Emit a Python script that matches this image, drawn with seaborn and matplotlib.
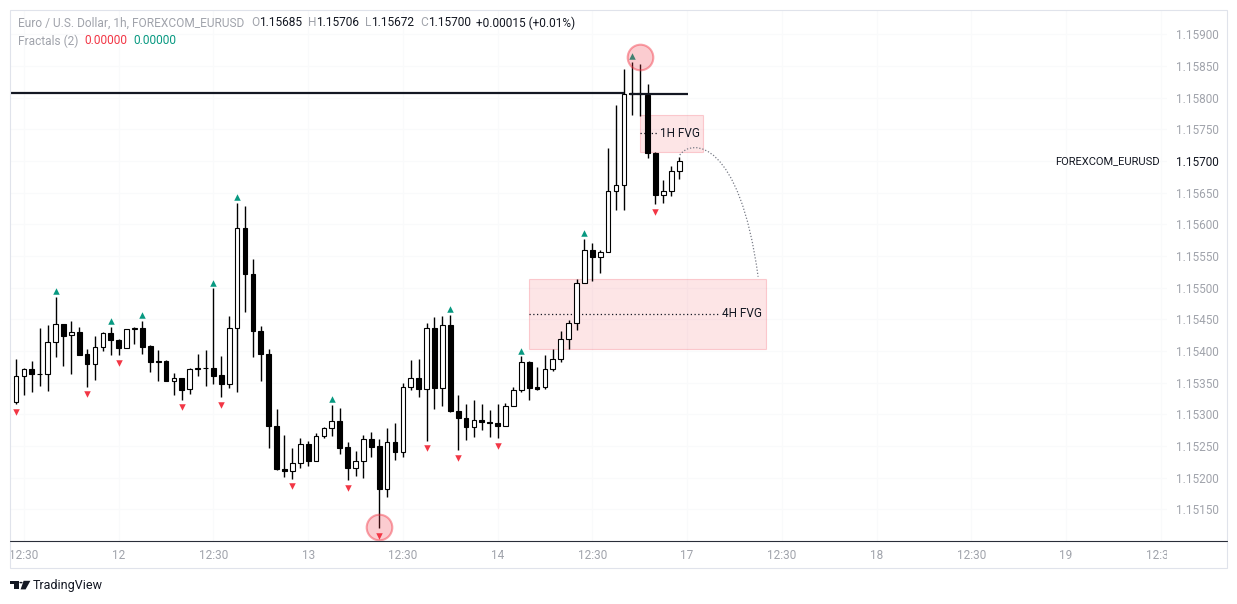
import numpy as np
import pandas as pd
import matplotlib
matplotlib.use("Agg")
import matplotlib.pyplot as plt
from matplotlib.lines import Line2D
from matplotlib.patches import Rectangle, Polygon, Circle, PathPatch
from matplotlib.path import Path
from matplotlib.transforms import Bbox, TransformedBbox
import seaborn as sns

# EURUSD 1h candles (bar 0 = 11th 11:30)
opens = [
    1.15320, 1.15361, 1.15371, 1.15364, 1.15363, 1.15414, 1.15442, 1.15425, 1.15430, 1.15395,
    1.15379, 1.15406, 1.15428, 1.15418, 1.15405, 1.15435, 1.15436, 1.15408, 1.15384, 1.15384,
    1.15353, 1.15358, 1.15340, 1.15371, 1.15374, 1.15373, 1.15362, 1.15348, 1.15436, 1.15594,
    1.15521, 1.15431, 1.15395, 1.15281, 1.15214, 1.15210, 1.15224, 1.15253, 1.15226, 1.15266,
    1.15278, 1.15290, 1.15248, 1.15216, 1.15226, 1.15261, 1.15250, 1.15182, 1.15256, 1.15241,
    1.15344, 1.15358, 1.15340, 1.15437, 1.15342, 1.15441, 1.15306, 1.15295, 1.15280, 1.15291,
    1.15288, 1.15286, 1.15281, 1.15314, 1.15338, 1.15383, 1.15343, 1.15343, 1.15371, 1.15388,
    1.15419, 1.15445, 1.15508, 1.15559, 1.15548, 1.15557, 1.15653, 1.15662, 1.15805, 1.15808,
    1.15804, 1.15712, 1.15647, 1.15653, 1.15685]
highs = [
    1.15387, 1.15373, 1.15384, 1.15436, 1.15441, 1.15486, 1.15443, 1.15447, 1.15438, 1.15403,
    1.15424, 1.15430, 1.15438, 1.15419, 1.15435, 1.15438, 1.15448, 1.15409, 1.15402, 1.15386,
    1.15365, 1.15358, 1.15373, 1.15395, 1.15402, 1.15499, 1.15392, 1.15455, 1.15634, 1.15629,
    1.15545, 1.15440, 1.15403, 1.15308, 1.15268, 1.15247, 1.15263, 1.15258, 1.15270, 1.15280,
    1.15315, 1.15310, 1.15257, 1.15242, 1.15268, 1.15272, 1.15261, 1.15279, 1.15286, 1.15349,
    1.15386, 1.15388, 1.15445, 1.15454, 1.15456, 1.15457, 1.15330, 1.15316, 1.15323, 1.15316,
    1.15307, 1.15316, 1.15318, 1.15343, 1.15392, 1.15384, 1.15375, 1.15394, 1.15404, 1.15431,
    1.15449, 1.15514, 1.15577, 1.15570, 1.15559, 1.15721, 1.15788, 1.15845, 1.15857, 1.15853,
    1.15821, 1.15714, 1.15670, 1.15692, 1.15706]
lows = [
    1.15316, 1.15330, 1.15336, 1.15345, 1.15337, 1.15391, 1.15377, 1.15364, 1.15393, 1.15344,
    1.15355, 1.15400, 1.15394, 1.15393, 1.15405, 1.15411, 1.15396, 1.15367, 1.15353, 1.15352,
    1.15331, 1.15323, 1.15332, 1.15360, 1.15345, 1.15348, 1.15327, 1.15341, 1.15336, 1.15462,
    1.15390, 1.15353, 1.15247, 1.15212, 1.15201, 1.15198, 1.15216, 1.15219, 1.15226, 1.15262,
    1.15266, 1.15237, 1.15196, 1.15202, 1.15200, 1.15233, 1.15120, 1.15170, 1.15228, 1.15233,
    1.15338, 1.15327, 1.15258, 1.15308, 1.15313, 1.15303, 1.15243, 1.15259, 1.15265, 1.15276,
    1.15265, 1.15262, 1.15281, 1.15314, 1.15336, 1.15322, 1.15339, 1.15340, 1.15369, 1.15383,
    1.15404, 1.15433, 1.15507, 1.15511, 1.15523, 1.15556, 1.15623, 1.15622, 1.15772, 1.15771,
    1.15704, 1.15632, 1.15633, 1.15645, 1.15672]
closes = [
    1.15361, 1.15371, 1.15364, 1.15363, 1.15414, 1.15442, 1.15424, 1.15430, 1.15394, 1.15379,
    1.15406, 1.15428, 1.15417, 1.15405, 1.15434, 1.15436, 1.15407, 1.15382, 1.15383, 1.15353,
    1.15358, 1.15339, 1.15371, 1.15374, 1.15373, 1.15361, 1.15348, 1.15436, 1.15594, 1.15521,
    1.15431, 1.15395, 1.15281, 1.15214, 1.15210, 1.15224, 1.15253, 1.15226, 1.15266, 1.15278,
    1.15290, 1.15247, 1.15216, 1.15226, 1.15261, 1.15249, 1.15182, 1.15256, 1.15241, 1.15344,
    1.15358, 1.15340, 1.15437, 1.15342, 1.15441, 1.15306, 1.15295, 1.15280, 1.15291, 1.15288,
    1.15287, 1.15281, 1.15314, 1.15338, 1.15383, 1.15341, 1.15340, 1.15371, 1.15388, 1.15419,
    1.15445, 1.15508, 1.15559, 1.15548, 1.15557, 1.15653, 1.15662, 1.15805, 1.15808, 1.15805,
    1.15712, 1.15647, 1.15653, 1.15685, 1.15700]

# Fractals (2) marks
up_fractals = [5, 12, 16, 25, 28, 40, 55, 64, 72, 78]
down_fractals = [0, 9, 13, 21, 26, 35, 42, 46, 52, 56, 61, 81]

# time axis
tick_pos = [1, 13, 25, 37, 49, 61, 73, 85, 97, 109, 121, 133, 145]
tick_labels = ["12:30", "12", "12:30", "13", "12:30", "14", "12:30",
               "17", "12:30", "18", "12:30", "19", "12:30"]

# price axis
price_ticks = [1.1515, 1.1520, 1.1525, 1.1530, 1.1535, 1.1540, 1.1545, 1.1550,
               1.1555, 1.1560, 1.1565, 1.1570, 1.1575, 1.1580, 1.1585, 1.1590]
price_labels = ["1.15150", "1.15200", "1.15250", "1.15300", "1.15350", "1.15400",
                "1.15450", "1.15500", "1.15550", "1.15600", "1.15650", "1.15700",
                "1.15750", "1.15800", "1.15850", "1.15900"]
last_price_label = "1.15700"

# drawings: fair value gaps (bar from, bar to, low, high)
fvg_4h = [65.0, 95.06, 1.15404, 1.15514]
fvg_1h = [79.0, 87.03, 1.15715, 1.15772]
# resistance line pieces (bar from, bar to, price)
res_left = [-0.77, 77.0, 1.15808]
res_right = [77.8, 85.1, 1.15805]
# projected path (bezier anchors)
arc_bars = [84.08, 85.60, 91.68, 94.0]
arc_prices = [1.157095, 1.157363, 1.157332, 1.155173]
# highlighted swing points
circle_bars = [79.05, 46.0]
circle_prices = [1.15864, 1.15122]

W, H = 1237, 604
TEXT = "#131722"
GREY = "#a0a3ab"
RED = "#f23645"
TEAL = "#089981"

sns.set_theme(style="white")
plt.rcParams["font.family"] = ["Roboto", "DejaVu Sans"]


def fx(x):
    return x / W


def fy(y):
    return 1 - y / H


fig = plt.figure(figsize=(W / 100, H / 100), dpi=100)
fig.patch.set_facecolor("white")
ax = fig.add_axes([fx(10), 63 / H, 1157 / W, 531 / H])
ylim = (1.151001, 1.159384)
ax.set_xlim(-0.77, 145.8)
ax.set_ylim(*ylim)
per_px = (ylim[1] - ylim[0]) / 531

df = pd.DataFrame({"open": opens, "high": highs, "low": lows, "close": closes})
df["bar"] = np.arange(len(df))
df["rising"] = df["close"] >= df["open"]

# FVG boxes
for x0, x1, lo, hi in [fvg_4h, fvg_1h]:
    ax.add_patch(Rectangle((x0, lo), x1 - x0, hi - lo, facecolor=(242 / 255, 54 / 255, 69 / 255, 0.13),
                           edgecolor=(242 / 255, 54 / 255, 69 / 255, 0.22), lw=0.8, zorder=1))
mid4 = (fvg_4h[2] + fvg_4h[3]) / 2
mid1 = (fvg_1h[2] + fvg_1h[3]) / 2
ax.plot([fvg_4h[0], 88.9], [mid4, mid4], color=TEXT, lw=0.9, ls=(0, (1, 2)), zorder=2)
ax.text(89.4, mid4, "4H FVG", color=TEXT, fontsize=8.5, va="center", ha="left", zorder=2)
ax.plot([fvg_1h[0], 81.2], [mid1, mid1], color=TEXT, lw=0.9, ls=(0, (1, 2)), zorder=2)
ax.text(81.6, mid1, "1H FVG", color=TEXT, fontsize=8.5, va="center", ha="left", zorder=2)

# candles
ax.vlines(df["bar"], df["low"], df["high"], color="black", lw=1.0, zorder=3)
body_lo = df[["open", "close"]].min(axis=1)
body_h = (df["close"] - df["open"]).abs().clip(lower=per_px * 0.4)
ax.bar(df["bar"], body_h, bottom=body_lo, width=0.6,
       color=np.where(df["rising"], "white", "black"), edgecolor="black", linewidth=0.8, zorder=4)

# resistance line
for x0, x1, p in [res_left, res_right]:
    ax.plot([x0, x1], [p, p], color=TEXT, lw=1.6, zorder=5, solid_capstyle="butt")

# fractal arrows
up_df = pd.DataFrame({"bar": up_fractals, "y": [highs[i] + 5.5 * per_px for i in up_fractals]})
dn_df = pd.DataFrame({"bar": down_fractals, "y": [lows[i] - 7.5 * per_px for i in down_fractals]})
sns.scatterplot(data=up_df, x="bar", y="y", marker="^", color=TEAL, s=22, linewidth=0, ax=ax, zorder=6)
sns.scatterplot(data=dn_df, x="bar", y="y", marker="v", color=RED, s=22, linewidth=0, ax=ax, zorder=6)
ax.set_xlabel("")
ax.set_ylabel("")

# projected arc
arc = Path(list(zip(arc_bars, arc_prices)), [Path.MOVETO, Path.CURVE4, Path.CURVE4, Path.CURVE4])
ax.add_patch(PathPatch(arc, fill=False, edgecolor="#787b86", lw=0.9, ls=(0, (1, 1.5)), zorder=5))

# swing highlights
ax.scatter(circle_bars, circle_prices, s=340, facecolor=(242 / 255, 54 / 255, 69 / 255, 0.25),
           edgecolor=(242 / 255, 54 / 255, 69 / 255, 0.45), linewidths=1.5, zorder=7)

# axes styling
for s in ax.spines.values():
    s.set_visible(False)
ax.set_xticks(tick_pos)
ax.set_xticklabels(tick_labels)
ax.set_yticks(price_ticks)
ax.set_yticklabels(price_labels)
ax.yaxis.tick_right()
ax.tick_params(axis="x", length=0, pad=5.5, labelsize=8.5, labelcolor=GREY)
ax.tick_params(axis="y", length=0, pad=6.5, labelsize=8.5, labelcolor=GREY)
for lab in ax.get_yticklabels():
    if lab.get_text() == last_price_label:
        lab.set_color(TEXT)
clip = TransformedBbox(Bbox([[0, -1], [1, 1]]), ax.transAxes)
for lab in ax.get_xticklabels():
    lab.set_clip_box(clip)
    lab.set_clip_on(True)
ax.grid(True, color="#f9fafb", lw=0.8)
ax.set_axisbelow(True)

ax.text(fx(1160), fy(161), "FOREXCOM_EURUSD", transform=fig.transFigure, color=TEXT,
        fontsize=8, ha="right", va="center")

# frame
fig.add_artist(Rectangle((fx(10), fy(568)), 1217 / W, 558 / H, transform=fig.transFigure,
                         fill=False, edgecolor="#e0e3eb", lw=0.8))
fig.add_artist(Line2D([fx(10), fx(1227)], [fy(541), fy(541)], color="#2a2e39", lw=0.8))


# legend header
def chain(parts, x, y):
    prev = None
    for text, color, gap in parts:
        if prev is None:
            prev = fig.text(fx(x), fy(y), text, color=color, fontsize=8.6, ha="left", va="center")
        else:
            prev = ax.annotate(text, xy=(1, 0.5), xycoords=prev, xytext=(gap, 0),
                               textcoords="offset points", color=color, fontsize=8.6,
                               ha="left", va="center", annotation_clip=False)


chain([("Euro / U.S. Dollar, 1h, FOREXCOM_EURUSD", GREY, 0), ("O", GREY, 5), ("1.15685", TEXT, 0),
       ("H", GREY, 4), ("1.15706", TEXT, 0), ("L", GREY, 4), ("1.15672", TEXT, 0),
       ("C", GREY, 4), ("1.15700", TEXT, 0), ("+0.00015 (+0.01%)", TEXT, 4)], 18, 23)
chain([("Fractals (2)", GREY, 0), ("0.00000", RED, 4), ("0.00000", TEAL, 5)], 18, 41)

# footer logo
fig.add_artist(Polygon([(fx(10), fy(580.8)), (fx(18.6), fy(580.8)), (fx(18.6), fy(589.4)),
                        (fx(14.4), fy(589.4)), (fx(14.4), fy(584.0)), (fx(10), fy(584.0))],
                       closed=True, transform=fig.transFigure, color=TEXT, lw=0))
fig.add_artist(Circle((fx(21.0), fy(582.6)), 1.6 / W, transform=fig.transFigure, color=TEXT, lw=0))
fig.add_artist(Polygon([(fx(23.6), fy(580.8)), (fx(30.4), fy(580.8)), (fx(25.6), fy(589.4)),
                        (fx(20.6), fy(589.4))],
                       closed=True, transform=fig.transFigure, color=TEXT, lw=0))
fig.text(fx(33), fy(586), "TradingView", color=TEXT, fontsize=9, ha="left", va="center")

fig.savefig("out.png", dpi=100)
